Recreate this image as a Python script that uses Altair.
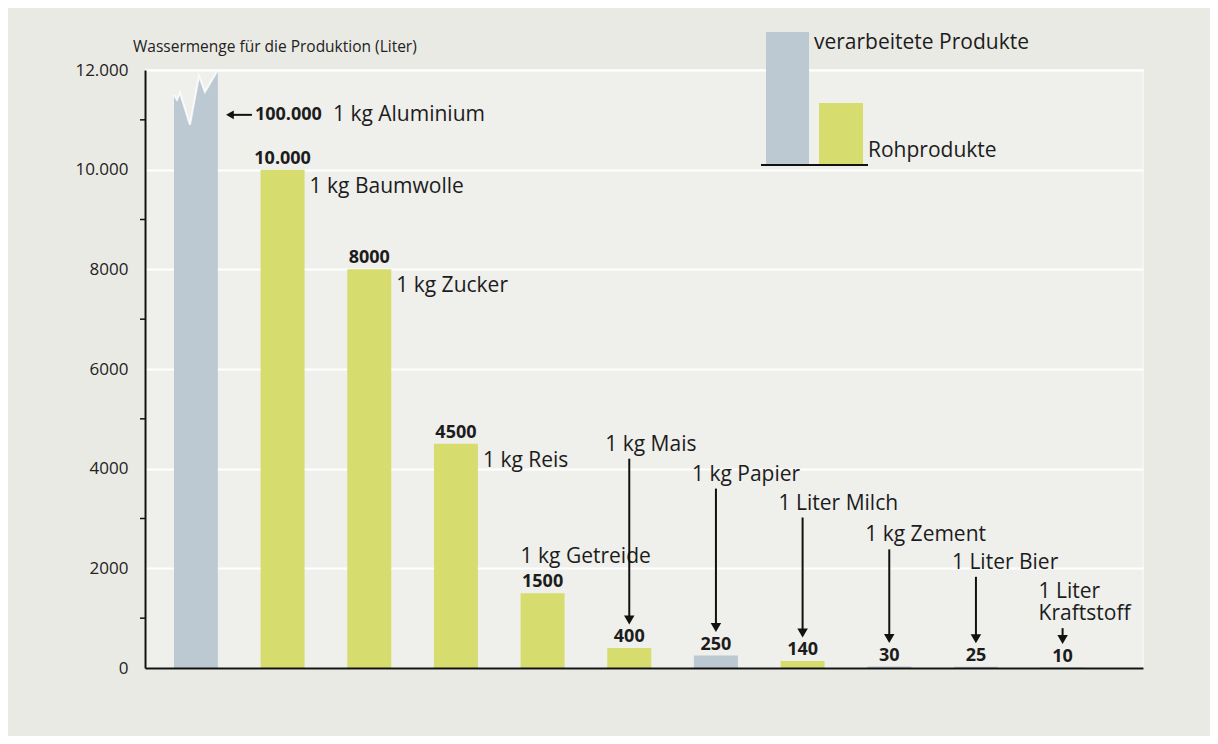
import altair as alt
import pandas as pd

# ---------------- data ----------------
products = ["1 kg Aluminium", "1 kg Baumwolle", "1 kg Zucker", "1 kg Reis", "1 kg Getreide",
            "1 kg Mais", "1 kg Papier", "1 Liter Milch", "1 kg Zement", "1 Liter Bier",
            "1 Liter Kraftstoff"]
liters = [100000, 10000, 8000, 4500, 1500, 400, 250, 140, 30, 25, 10]
kinds = ["verarbeitet", "roh", "roh", "roh", "roh", "roh", "verarbeitet", "roh",
         "verarbeitet", "verarbeitet", "verarbeitet"]
value_text = ["100.000", "10.000", "8000", "4500", "1500", "400", "250", "140", "30", "25", "10"]

# Aluminium bar is cut off at the top of the axis: profile of the torn top edge
break_offset = [-0.253, -0.219, -0.184, -0.069, 0.035, 0.104, 0.253]
break_top = [11500, 11400, 11540, 10900, 11880, 11560, 12000]
alu_label_level = 11100

# call-out labels for the small values (level where the arrow starts)
callout_labels = ["1 kg Mais", "1 kg Papier", "1 Liter Milch", "1 kg Zement", "1 Liter Bier",
                  "1 Liter\nKraftstoff"]
callout_top = [4200, 3600, 3020, 2380, 1830, 800]

y_ticks = [0, 2000, 4000, 6000, 8000, 10000, 12000]
minor_ticks = [1000, 3000, 5000, 7000, 9000, 11000]

legend_kinds = ["verarbeitete Produkte", "Rohprodukte"]
title_text = "Wassermenge für die Produktion (Liter)"

# ---------------- styles ----------------
FONT = "Open Sans"
GRAY = "#bcc9d3"
YELLOW = "#d6dd6e"
INK = "#1c1c1c"
NAME_SIZE = 21
VALUE_SIZE = 18

df = pd.DataFrame({"idx": list(range(len(products))), "product": products,
                   "liters": liters, "kind": kinds, "vtext": value_text})
bars_df = df.iloc[1:]
alu_df = pd.DataFrame({"x": break_offset, "top": break_top})
alu_row = df.iloc[:1].assign(level=alu_label_level)
call_df = df.iloc[5:].assign(label=callout_labels, top=callout_top)
minor_df = pd.DataFrame({"v": minor_ticks})

xscale = alt.Scale(domain=[-0.53, 10.87], nice=False, zero=False)
yscale = alt.Scale(domain=[0, 12000], nice=False)
xaxis = alt.Axis(title=None, labels=False, ticks=False, grid=False, domainColor="#111",
                 domainWidth=2, zindex=1)
yaxis = alt.Axis(title=None, values=y_ticks, ticks=False, grid=True, gridColor="#ffffff",
                 gridWidth=2, domainColor="#111", domainWidth=2, labelPadding=17,
                 labelFontSize=17, labelFont=FONT, labelColor="#222",
                 labelExpr="datum.value >= 10000 ? replace(format(datum.value, ','), ',', '.') : format(datum.value, 'd')")

X = alt.X("idx:Q", scale=xscale, axis=xaxis)
Y = alt.Y("liters:Q", scale=yscale, axis=yaxis)

alu = alt.Chart(alu_df).mark_area(color=GRAY).encode(
    x=alt.X("x:Q", scale=xscale, axis=xaxis),
    y=alt.Y("top:Q", scale=yscale, axis=yaxis),
    y2=alt.datum(0),
)
alu_edge = alt.Chart(alu_df).mark_line(color="#ffffff", strokeWidth=2, opacity=0.8).encode(
    x=alt.X("x:Q", scale=xscale), y=alt.Y("top:Q", scale=yscale))

bars = alt.Chart(bars_df).mark_bar(size=44).encode(
    x=X, y=Y,
    color=alt.Color("kind:N", scale=alt.Scale(domain=["verarbeitet", "roh"], range=[GRAY, YELLOW]),
                    legend=None),
)

vlabels = alt.Chart(bars_df).mark_text(font=FONT, fontSize=VALUE_SIZE, fontWeight="bold", color=INK,
                                       baseline="middle", dy=-11).encode(x=X, y=Y, text="vtext:N")

right_labels = alt.Chart(df.iloc[1:4]).mark_text(font=FONT, fontSize=NAME_SIZE, color=INK, align="left",
                                                 baseline="middle", dx=27, dy=17).encode(
    x=X, y=Y, text="product:N")
above_label = alt.Chart(df.iloc[4:5]).mark_text(font=FONT, fontSize=NAME_SIZE, color=INK, align="left",
                                                baseline="middle", dx=-22, dy=-36).encode(
    x=X, y=Y, text="product:N")

call_text = alt.Chart(call_df.iloc[:-1]).mark_text(font=FONT, fontSize=NAME_SIZE, color=INK,
                                                   align="left", baseline="bottom", dx=-24,
                                                   dy=-4).encode(
    x=X, y=alt.Y("top:Q", scale=yscale), text="label:N")
call_text2 = alt.Chart(call_df.iloc[-1:]).mark_text(font=FONT, fontSize=NAME_SIZE, color=INK,
                                                    align="left", baseline="bottom", dx=-24,
                                                    dy=-26, lineBreak="\n", lineHeight=22).encode(
    x=X, y=alt.Y("top:Q", scale=yscale), text="label:N")
call_rule = alt.Chart(call_df).mark_rule(color="#111", strokeWidth=2, y2Offset=-28).encode(
    x=X, y=alt.Y("top:Q", scale=yscale), y2="liters:Q")
call_head = alt.Chart(call_df).mark_point(shape="triangle-down", filled=True, color="#111",
                                          opacity=1, size=110, yOffset=-28).encode(x=X, y=Y)

alu_arrow = alt.Chart(alu_row).mark_rule(color="#111", strokeWidth=2, xOffset=34, x2Offset=56).encode(
    x=X, x2="idx:Q", y=alt.Y("level:Q", scale=yscale))
alu_head = alt.Chart(alu_row).mark_point(shape="triangle-left", filled=True, color="#111",
                                         opacity=1, size=80, xOffset=34).encode(
    x=X, y=alt.Y("level:Q", scale=yscale))
alu_value = alt.Chart(alu_row).mark_text(font=FONT, fontSize=VALUE_SIZE, fontWeight="bold", color=INK,
                                         align="left", baseline="middle", dx=59).encode(
    x=X, y=alt.Y("level:Q", scale=yscale), text="vtext:N")
alu_name = alt.Chart(alu_row).mark_text(font=FONT, fontSize=NAME_SIZE, color=INK, align="left",
                                        baseline="middle", dx=137).encode(
    x=X, y=alt.Y("level:Q", scale=yscale), text="product:N")

minor = alt.Chart(minor_df).mark_rule(color="#111", strokeWidth=1.5).encode(
    y=alt.Y("v:Q", scale=yscale), x=alt.value(-5), x2=alt.value(0))

one = alt.Data(values=[{}])
leg_gray = alt.Chart(one).mark_rect(color=GRAY).encode(
    x=alt.value(621), x2=alt.value(664), y=alt.value(-38), y2=alt.value(94))
leg_yellow = alt.Chart(one).mark_rect(color=YELLOW).encode(
    x=alt.value(674), x2=alt.value(718), y=alt.value(33), y2=alt.value(94))
leg_base = alt.Chart(one).mark_rule(color="#111", strokeWidth=2).encode(
    x=alt.value(616), x2=alt.value(723), y=alt.value(95))
leg_t1 = alt.Chart(one).mark_text(font=FONT, fontSize=NAME_SIZE, color=INK, align="left",
                                  baseline="middle", text=legend_kinds[0]).encode(
    x=alt.value(669), y=alt.value(-27))
leg_t2 = alt.Chart(one).mark_text(font=FONT, fontSize=NAME_SIZE, color=INK, align="left",
                                  baseline="middle", text=legend_kinds[1]).encode(
    x=alt.value(723), y=alt.value(81))
title = alt.Chart(one).mark_text(font=FONT, fontSize=15.5, color="#222", align="left",
                                 baseline="middle", text=title_text).encode(
    x=alt.value(-12), y=alt.value(-23))

chart = alt.layer(
    alu, alu_edge, bars, vlabels, right_labels, above_label, call_rule, call_head,
    call_text, call_text2,
    alu_arrow, alu_head, alu_value, alu_name, minor,
    leg_gray, leg_yellow, leg_base, leg_t1, leg_t2, title,
).properties(
    width=998, height=598,
    autosize=alt.AutoSizeParams(type="none"),
    padding={"left": 137, "top": 62, "right": 67, "bottom": 68},
    background="#eaeae5",
).configure_view(fill="#efefeb", stroke="#f8f8f6", strokeWidth=1.5)

chart.save("out.html", embed_options={"renderer": "svg", "actions": False})
